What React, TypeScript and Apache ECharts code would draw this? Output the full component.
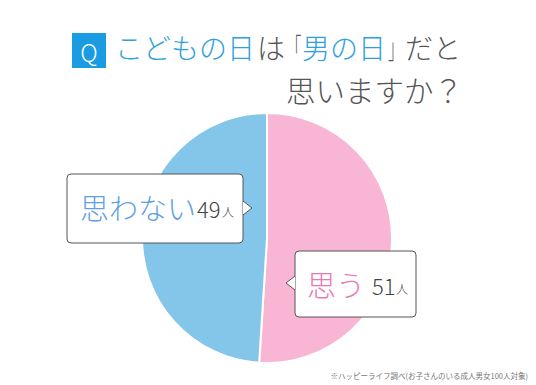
import React, { useEffect, useRef } from "react";
import * as echarts from "echarts";

const categories = ["思う", "思わない"];
const values = [51, 49];
const unit = "人";
const colors = ["#f8b5d4", "#84c6e9"];
const labelColors = ["#e879b2", "#5f9fe2"];
const titleLine1 = [
  { t: "こどもの日", c: "#2fa0de" },
  { t: "は", c: "#555" },
  { t: "「", c: "#555" },
  { t: "男の日", c: "#2fa0de" },
  { t: "」", c: "#555" },
  { t: "だと", c: "#555" },
];
const titleLine2 = "思いますか？";
const footnote = "※ハッピーライフ調べ(お子さんのいる成人男女100人対象)";

const FONT = '"Noto Sans CJK JP", "Noto Sans", sans-serif';

function callout(
  bx: number, by: number, bw: number, bh: number,
  side: "left" | "right", ay: number, tipX: number,
  label: string, num: string, labelColor: string,
  lx: number, cy: number, nx: number, ux: number
) {
  const baseX = side === "right" ? bx + bw : bx;
  return {
    type: "group",
    children: [
      {
        type: "rect",
        shape: { x: bx, y: by, width: bw, height: bh, r: 4 },
        style: { fill: "#fff", stroke: "#555", lineWidth: 1 },
        z: 10,
      },
      {
        type: "polygon",
        shape: { points: [[baseX, ay - 7], [tipX, ay], [baseX, ay + 7]] },
        style: { fill: "#fff", stroke: null },
        z: 11,
      },
      {
        type: "polyline",
        shape: { points: [[baseX, ay - 7], [tipX, ay], [baseX, ay + 7]] },
        style: { stroke: "#555", lineWidth: 1, fill: null },
        z: 12,
      },
      {
        type: "text",
        x: lx, y: cy, z: 13,
        style: { text: label, fontSize: 29, fill: labelColor, fontFamily: FONT, fontWeight: 300, verticalAlign: "middle", textAlign: "left" },
      },
      {
        type: "text",
        x: nx, y: cy + 12, z: 13,
        style: { text: num, fontSize: 22, fill: "#444", fontFamily: FONT, fontWeight: 300, verticalAlign: "bottom", textAlign: "left" },
      },
      {
        type: "text",
        x: ux, y: cy + 10, z: 13,
        style: { text: unit, fontSize: 12, fill: "#444", fontFamily: FONT, fontWeight: 300, verticalAlign: "bottom", textAlign: "left" },
      },
    ],
  };
}

export default function App() {
  const ref = useRef<HTMLDivElement>(null);
  useEffect(() => {
    const chart = echarts.init(ref.current!, null, { renderer: "svg" });
    const F = 28;
    // horizontal placement of title segments (brackets are narrowed)
    const segX = [115, 257, 286, 302, 388, 405];
    const segScale = [1, 1, 0.55, 1, 0.55, 1];
    const titleEls = titleLine1.map((p, i) => ({
      type: "text",
      x: segX[i],
      y: 47,
      scaleX: segScale[i],
      style: { text: p.t, fontSize: F, lineHeight: 30, fontFamily: FONT, fontWeight: 300, fill: p.c, textAlign: "left", verticalAlign: "middle" },
    }));
    chart.setOption({
      animation: false,
      backgroundColor: "#fff",
      series: [
        {
          type: "pie",
          center: [267, 238],
          radius: [0, 125],
          startAngle: 90,
          clockwise: true,
          label: { show: false },
          labelLine: { show: false },
          silent: true,
          itemStyle: { borderColor: "#fff", borderWidth: 2 },
          data: categories.map((c, i) => ({ name: c, value: values[i], itemStyle: { color: colors[i] } })),
        },
      ],
      graphic: [
        {
          type: "rect",
          shape: { x: 72, y: 33, width: 34, height: 35 },
          style: { fill: "#1b9be1" },
        },
        {
          type: "text",
          x: 89, y: 51,
          style: { text: "Q", fontSize: 24, lineHeight: 26, fill: "#fff", fontFamily: FONT, fontWeight: 300, textAlign: "center", verticalAlign: "middle" },
        },
        ...titleEls,
        {
          type: "text",
          x: 463, y: 89,
          style: { text: titleLine2, fontSize: 29.5, lineHeight: 32, fontFamily: FONT, fontWeight: 300, fill: "#555", textAlign: "right", verticalAlign: "middle" },
        },
        callout(67, 174, 176, 69, "right", 208, 252, categories[1], String(values[1]), labelColors[1], 80, 207, 197, 222),
        callout(295, 251, 121, 66, "left", 283, 286, categories[0], String(values[0]), labelColors[0], 307, 284, 372, 396),
        {
          type: "text",
          x: 528, y: 375,
          style: { text: footnote, fontSize: 7.5, fill: "#777", fontFamily: FONT, textAlign: "right", verticalAlign: "middle" },
        },
      ],
    });
    return () => chart.dispose();
  }, []);
  return <div ref={ref} style={{ position: "fixed", left: 0, top: 0, width: 536, height: 385 }} />;
}
